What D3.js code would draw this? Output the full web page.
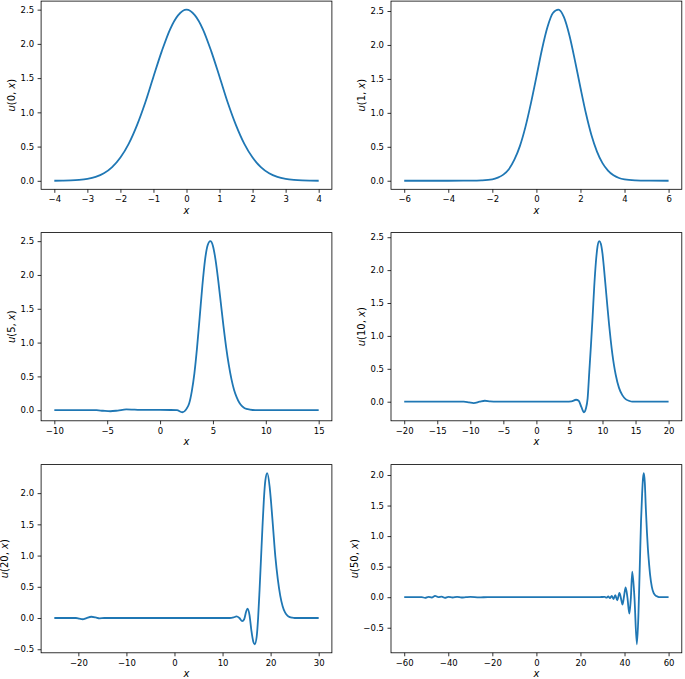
<!DOCTYPE html>
<html>
<head>
<meta charset="utf-8">
<script src="https://cdn.jsdelivr.net/npm/d3@7"></script>
<style>
  body { margin: 0; background: #fff; }
  text { font-family: "DejaVu Sans", sans-serif; }
</style>
</head>
<body>
<div id="container"></div>
<script>
// time of each snapshot (used in the y labels)
const times = [0, 1, 5, 10, 20, 50];

// u(0, x)
const x_t0 = [-4, -3.75, -3.5, -3.25, -3, -2.75, -2.5, -2.25, -2, -1.75, -1.5, -1.25, -1, -0.75, -0.5, -0.25, 0,
  0.25, 0.5, 0.75, 1, 1.25, 1.5, 1.75, 2, 2.25, 2.5, 2.75, 3, 3.25, 3.5, 3.75, 4];
const u_t0 = [0.001, 0.002, 0.005, 0.013, 0.028, 0.057, 0.11, 0.2, 0.34, 0.54, 0.81, 1.14, 1.52, 1.89, 2.21, 2.42, 2.5,
  2.42, 2.21, 1.89, 1.52, 1.14, 0.81, 0.54, 0.34, 0.2, 0.11, 0.057, 0.028, 0.013, 0.005, 0.002, 0.001];

// u(1, x)
const x_t1 = [-6, -4, -3, -2.5, -2, -1.75, -1.5, -1.25, -1, -0.75, -0.5, -0.25, 0, 0.25, 0.5, 0.75, 1, 1.25, 1.5,
  1.75, 2, 2.25, 2.5, 2.75, 3, 3.25, 3.5, 3.75, 4, 4.5, 5, 6];
const u_t1 = [0, 0, 0.002, 0.006, 0.02, 0.045, 0.09, 0.17, 0.31, 0.51, 0.79, 1.14, 1.53, 1.93, 2.26, 2.47, 2.52, 2.41, 2.14,
  1.77, 1.37, 0.99, 0.67, 0.43, 0.26, 0.15, 0.08, 0.04, 0.02, 0.005, 0.001, 0];

// u(5, x)
const x_t5 = [-10, -6, -5.4, -4.7, -4, -3.2, -2.4, -1.5, 0, 1, 1.6, 2.1, 2.5, 2.75, 3, 3.25, 3.5, 3.75, 4, 4.25, 4.5,
  4.75, 5, 5.25, 5.5, 5.75, 6, 6.25, 6.5, 6.75, 7, 7.25, 7.5, 7.75, 8, 8.5, 9, 10, 15];
const u_t5 = [0, 0, -0.008, -0.015, -0.005, 0.012, 0.008, 0.004, 0.004, 0.003, 0.0, -0.03, 0.02, 0.1, 0.28, 0.55, 0.93,
  1.38, 1.84, 2.22, 2.44, 2.5, 2.43, 2.22, 1.92, 1.58, 1.24, 0.93, 0.67, 0.46, 0.3, 0.19, 0.11, 0.06, 0.03, 0.01, 0.002, 0, 0];

// u(10, x)
const x_t10 = [-20, -11, -10.2, -9.5, -8.6, -7.8, -7, -6, 4.5, 5.3, 6, 6.4, 6.8, 7.2, 7.5, 7.75, 8, 8.25, 8.5, 8.75, 9,
  9.25, 9.5, 9.75, 10, 10.25, 10.5, 10.75, 11, 11.25, 11.5, 11.75, 12, 12.5, 13, 13.5, 14, 14.5, 20];
const u_t10 = [0, 0, -0.01, -0.02, 0, 0.015, 0.005, 0, 0, 0.005, 0.03, 0.015, -0.08, -0.16, -0.1, 0.05, 0.45, 0.85, 1.28,
  1.75, 2.12, 2.36, 2.44, 2.4, 2.25, 2.0, 1.72, 1.44, 1.17, 0.93, 0.72, 0.55, 0.41, 0.21, 0.1, 0.04, 0.015, 0, 0];

// u(20, x)
const x_t20 = [-25, -20.5, -19.8, -19.1, -18.3, -17.3, -16.4, -15.6, -14.6, 11.5, 12.3, 12.9, 13.5, 14.1, 14.5, 14.9,
  15.2, 15.6, 16, 16.4, 16.7, 17.1, 17.4, 17.7, 18, 18.3, 18.6, 18.9, 19.3, 19.8, 20.1, 20.5, 21, 21.5, 22,
  22.5, 23, 23.5, 24, 24.5, 25, 30];
const u_t20 = [0, 0, -0.01, -0.02, 0, 0.02, 0.01, -0.005, 0, 0, 0.01, 0.025, 0, -0.05, -0.02, 0.1,
  0.15, 0.05, -0.2, -0.38, -0.42, -0.3, 0, 0.45, 0.95, 1.45, 1.9, 2.2, 2.32, 2.1, 1.85, 1.46, 0.97, 0.62, 0.36,
  0.19, 0.09, 0.04, 0.015, 0.005, 0, 0];

// u(50, x)
const x_t50 = [-60, -52, -50.5, -49, -47.5, -46, -44.5, -43, -41.5, -40, -38, -36, -34, -32, -30, -26, -22, -19,
  28, 29.5, 31, 31.8, 32.6, 33.4, 34.2, 35, 35.8, 36.7, 37.7, 38.4, 39.1, 39.8, 40.5, 41.3, 42.2, 42.9, 43.5, 44.5,
  45.6, 46.3, 46.7, 47, 47.5, 48, 48.4, 48.8, 49.2, 49.7, 50.2, 50.6, 51, 51.6, 52.4, 53.2, 54, 55, 56, 60];
const u_t50 = [0, 0, -0.01, 0.005, -0.005, 0.02, 0, 0.01, -0.01, 0.005, -0.005, 0.005, -0.005, 0, 0.004, -0.004, 0.002, 0,
  0, 0.003, 0.005, -0.008, 0.012, -0.015, 0.02, -0.03, 0.035, -0.05, 0.07, -0.02, -0.12, 0.02, 0.16, 0, -0.27, 0, 0.42, 0,
  -0.77, -0.3, 0.2, 0.6, 1.25, 1.7, 1.95, 2.03, 1.88, 1.43, 1.05, 0.8, 0.61, 0.37, 0.17, 0.07, 0.03, 0.01, 0, 0];

// tick labels
const xTicks_t0 = [-4, -3, -2, -1, 0, 1, 2, 3, 4];
const xTicks_t1 = [-6, -4, -2, 0, 2, 4, 6];
const xTicks_t5 = [-10, -5, 0, 5, 10, 15];
const xTicks_t10 = [-20, -15, -10, -5, 0, 5, 10, 15, 20];
const xTicks_t20 = [-20, -10, 0, 10, 20, 30];
const xTicks_t50 = [-60, -40, -20, 0, 20, 40, 60];
const yTicks_pos = [0, 0.5, 1, 1.5, 2, 2.5];
const yTicks_neg = [-0.5, 0, 0.5, 1, 1.5, 2];

const panels = [
  { t: times[0], xs: x_t0, us: u_t0, xTicks: xTicks_t0, yTicks: yTicks_pos },
  { t: times[1], xs: x_t1, us: u_t1, xTicks: xTicks_t1, yTicks: yTicks_pos },
  { t: times[2], xs: x_t5, us: u_t5, xTicks: xTicks_t5, yTicks: yTicks_pos },
  { t: times[3], xs: x_t10, us: u_t10, xTicks: xTicks_t10, yTicks: yTicks_pos },
  { t: times[4], xs: x_t20, us: u_t20, xTicks: xTicks_t20, yTicks: yTicks_neg },
  { t: times[5], xs: x_t50, us: u_t50, xTicks: xTicks_t50, yTicks: yTicks_neg }
];

// figure layout
const width = 685, height = 679;
const colLeft = [41.1, 391];
const rowTop = [1.1, 232.6, 464.6];
const axW = 290.8, axH = 188.2;
const lineColor = "#1f77b4";

const svg = d3.select("#container")
  .append("svg")
  .attr("width", width)
  .attr("height", height);

// matplotlib style 5% padding around the data
function padded(ext) {
  const d = (ext[1] - ext[0]) * 0.05;
  return [ext[0] - d, ext[1] + d];
}

panels.forEach((p, i) => {
  const left = colLeft[i % 2], top = rowTop[Math.floor(i / 2)];
  const g = svg.append("g").attr("transform", `translate(${left},${top})`);

  const x = d3.scaleLinear().domain(padded(d3.extent(p.xs))).range([0, axW]);
  const y = d3.scaleLinear().domain(padded(d3.extent(p.us))).range([axH, 0]);

  const pts = p.xs.map((d, k) => [d, p.us[k]]);

  g.append("path")
    .datum(pts)
    .attr("fill", "none")
    .attr("stroke", lineColor)
    .attr("stroke-width", 1.8)
    .attr("stroke-linejoin", "round")
    .attr("d", d3.line().x(d => x(d[0])).y(d => y(d[1])).curve(d3.curveMonotoneX));

  const xAxis = g.append("g")
    .attr("transform", `translate(0,${axH})`)
    .call(d3.axisBottom(x).tickValues(p.xTicks).tickFormat(d3.format("d")).tickSize(3.5).tickPadding(3.5));

  const yAxis = g.append("g")
    .call(d3.axisLeft(y).tickValues(p.yTicks).tickFormat(d3.format(".1f")).tickSize(3.5).tickPadding(3.5));

  [xAxis, yAxis].forEach(a => {
    a.select(".domain").remove();
    a.selectAll(".tick line").attr("stroke", "#000").attr("stroke-width", 0.8);
    a.selectAll(".tick text")
      .attr("fill", "#000")
      .attr("font-family", "DejaVu Sans")
      .attr("font-size", "8.5px");
  });

  // frame
  g.append("rect")
    .attr("width", axW)
    .attr("height", axH)
    .attr("fill", "none")
    .attr("stroke", "#000")
    .attr("stroke-width", 0.8);

  // x label
  g.append("text")
    .attr("x", axW / 2)
    .attr("y", axH + 24.5)
    .attr("text-anchor", "middle")
    .attr("font-size", "10px")
    .attr("font-style", "italic")
    .text("x");

  // y label, placed left of the tick labels
  const bb = yAxis.node().getBBox();
  const yl = g.append("text")
    .attr("text-anchor", "middle")
    .attr("font-size", "10px")
    .attr("transform", `translate(${bb.x - 5.5},${axH / 2}) rotate(-90)`);
  yl.append("tspan").attr("font-style", "italic").text("u");
  yl.append("tspan").text(`(${p.t}, `);
  yl.append("tspan").attr("font-style", "italic").text("x");
  yl.append("tspan").text(")");
});
</script>
</body>
</html>
